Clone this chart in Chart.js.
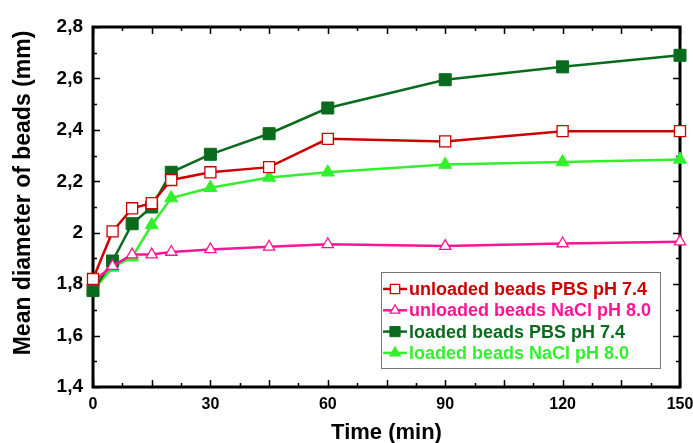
<!DOCTYPE html>
<html>
<head>
<meta charset="utf-8">
<script src="https://cdn.jsdelivr.net/npm/chart.js@4.4.1/dist/chart.umd.min.js"></script>
<style>
  html, body { margin: 0; padding: 0; background: #fff; }
  #wrap { width: 693px; height: 443px; }
</style>
</head>
<body>
<div id="wrap"><canvas id="beadChart" width="693" height="443"></canvas></div>
<script>
// ========== 数据 ==========
const times = [0, 5, 10, 15, 20, 30, 45, 60, 90, 120, 150]
const unloadedPbs = [1.82, 2.005, 2.095, 2.115, 2.205, 2.235, 2.255, 2.365, 2.355, 2.395, 2.395]
const unloadedNacl = [1.81, 1.87, 1.915, 1.915, 1.925, 1.935, 1.945, 1.955, 1.948, 1.958, 1.965]
const loadedPbs = [1.775, 1.89, 2.035, 2.1, 2.235, 2.305, 2.385, 2.485, 2.595, 2.645, 2.69]
const loadedNacl = [1.775, 1.865, 1.905, 2.03, 2.135, 2.175, 2.215, 2.235, 2.265, 2.275, 2.285]
const seriesNames = [
  'unloaded beads PBS pH 7.4',
  'unloaded beads NaCl pH 8.0',
  'loaded beads PBS pH 7.4',
  'loaded beads NaCl pH 8.0'
]
const xTicks = [0, 30, 60, 90, 120, 150]
const yTicks = [1.4, 1.6, 1.8, 2.0, 2.2, 2.4, 2.6, 2.8]

const RED = '#cc0000'
const PINK = '#ff1493'
const DARK_GREEN = '#0a6b1e'
const LIGHT_GREEN = '#33f02e'

function toPoints(values) {
  return values.map((v, i) => ({ x: times[i], y: v }))
}

function makeSet(label, values, color, style, radius, filled) {
  return {
    label: label,
    data: toPoints(values),
    borderColor: color,
    backgroundColor: color,
    borderWidth: 2.5,
    pointStyle: style,
    pointRadius: radius,
    pointHoverRadius: radius,
    pointBorderColor: color,
    pointBackgroundColor: filled ? color : '#ffffff',
    pointBorderWidth: filled ? 1 : 1.3,
    tension: 0,
    clip: false
  }
}

// ========== 外框、刻度和图例 ==========
const framePlugin = {
  id: 'frame',
  beforeDatasetsDraw(chart) {
    const { ctx, chartArea: a, scales } = chart
    ctx.save()
    ctx.strokeStyle = '#000'
    ctx.lineWidth = 1.5
    // x ticks every 7.5 min, longer at multiples of 15
    for (let t = 0; t <= 150; t += 7.5) {
      const px = Math.round(scales.x.getPixelForValue(t)) + 0.5
      const len = t % 15 === 0 ? 7 : 4
      ctx.beginPath()
      ctx.moveTo(px, a.bottom); ctx.lineTo(px, a.bottom - len)
      ctx.moveTo(px, a.top); ctx.lineTo(px, a.top + len)
      ctx.stroke()
    }
    for (let k = 0; k <= 14; k++) {
      const v = 1.4 + k * 0.1
      const py = Math.round(scales.y.getPixelForValue(v)) + 0.5
      const len = k % 2 === 0 ? 7 : 4
      ctx.beginPath()
      ctx.moveTo(a.left, py); ctx.lineTo(a.left + len, py)
      ctx.moveTo(a.right, py); ctx.lineTo(a.right - len, py)
      ctx.stroke()
    }
    ctx.lineWidth = 3
    ctx.strokeRect(a.left, a.top, a.right - a.left, a.bottom - a.top)

    // y axis title
    ctx.translate(24, 193)
    ctx.rotate(-Math.PI / 2)
    ctx.fillStyle = '#000'
    ctx.font = 'bold 23px "Liberation Sans", Arial, sans-serif'
    ctx.textAlign = 'center'
    ctx.textBaseline = 'middle'
    ctx.fillText('Mean diameter of beads (mm)', 0, 0)
    ctx.restore()
  },
  afterDraw(chart) {
    const { ctx } = chart
    const boxL = 381, boxT = 272, boxR = 660, boxB = 368
    ctx.save()
    ctx.fillStyle = '#fff'
    ctx.fillRect(boxL, boxT, boxR - boxL, boxB - boxT)
    ctx.strokeStyle = '#777'
    ctx.lineWidth = 1
    ctx.strokeRect(boxL + 0.5, boxT + 0.5, boxR - boxL, boxB - boxT)
    ctx.font = 'bold 18px "Liberation Sans", Arial, sans-serif'
    ctx.textBaseline = 'middle'
    chart.data.datasets.forEach((ds, i) => {
      const y = 289 + i * 21.3
      ctx.strokeStyle = ds.borderColor
      ctx.lineWidth = 2.5
      ctx.beginPath()
      ctx.moveTo(383, y); ctx.lineTo(407, y)
      ctx.stroke()
      ctx.fillStyle = ds.pointBackgroundColor
      ctx.strokeStyle = ds.pointBorderColor
      ctx.lineWidth = ds.pointBorderWidth
      Chart.helpers.drawPoint(ctx, {
        pointStyle: ds.pointStyle,
        radius: ds.pointRadius * 0.85,
        borderWidth: ds.pointBorderWidth,
        rotation: 0
      }, 395, y)
      ctx.fillStyle = ds.borderColor
      ctx.fillText(ds.label, 409, y + 1)
    })
    ctx.restore()
  }
}

function formatComma(value) {
  const r = Math.round(value * 10) / 10
  return String(r).replace('.', ',')
}

const ctx = document.getElementById('beadChart').getContext('2d')
const beadChart = new Chart(ctx, {
  type: 'line',
  data: {
    datasets: [
      makeSet(seriesNames[0], unloadedPbs, RED, 'rect', 7.8, false),
      makeSet(seriesNames[1], unloadedNacl, PINK, 'triangle', 6.5, false),
      makeSet(seriesNames[2], loadedPbs, DARK_GREEN, 'rect', 8.5, true),
      makeSet(seriesNames[3], loadedNacl, LIGHT_GREEN, 'triangle', 7.5, true)
    ]
  },
  options: {
    responsive: false,
    animation: false,
    events: [],
    layout: { padding: { top: 27, right: 13, left: 0, bottom: 0 } },
    plugins: { legend: { display: false }, tooltip: { enabled: false } },
    scales: {
      x: {
        type: 'linear',
        min: 0,
        max: 150,
        afterFit(scale) {
          scale.height = 56
          scale.paddingLeft = 0
          scale.paddingRight = 0
        },
        afterBuildTicks(scale) { scale.ticks = xTicks.map(v => ({ value: v })) },
        grid: { display: false, drawTicks: false },
        border: { display: false },
        ticks: {
          color: '#000',
          padding: 8,
          maxRotation: 0,
          autoSkip: false,
          font: { family: '"Liberation Sans Narrow", "Arial Narrow", Arial, sans-serif', size: 16, weight: 'bold' }
        },
        title: {
          display: true,
          text: 'Time (min)',
          color: '#000',
          padding: { top: 0, bottom: 0 },
          font: { family: '"Liberation Sans", Arial, sans-serif', size: 22, weight: 'bold', lineHeight: 0.9 }
        }
      },
      y: {
        min: 1.4,
        max: 2.8,
        afterFit(scale) {
          scale.width = 93
          scale.paddingTop = 0
          scale.paddingBottom = 0
        },
        afterBuildTicks(scale) { scale.ticks = yTicks.map(v => ({ value: v })) },
        grid: { display: false, drawTicks: false },
        border: { display: false },
        ticks: {
          color: '#000',
          padding: 10,
          autoSkip: false,
          callback: formatComma,
          font: { family: '"Liberation Sans", Arial, sans-serif', size: 19, weight: 'bold' }
        }
      }
    }
  },
  plugins: [framePlugin]
})
</script>
</body>
</html>
